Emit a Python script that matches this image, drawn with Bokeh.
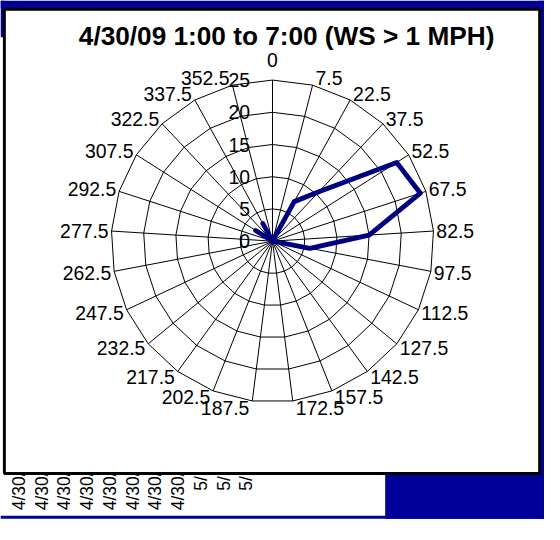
import math
from bokeh.plotting import figure
from bokeh.models import Range1d
from bokeh.embed import file_html
from bokeh.resources import INLINE
from bokeh.core.properties import value

# ---------------- data ----------------
TITLE = "4/30/09 1:00 to 7:00 (WS > 1 MPH)"
directions = ["0", "7.5", "22.5", "37.5", "52.5", "67.5", "82.5", "97.5",
              "112.5", "127.5", "142.5", "157.5", "172.5", "187.5", "202.5",
              "217.5", "232.5", "247.5", "262.5", "277.5", "292.5", "307.5",
              "322.5", "337.5", "352.5"]
wind_counts = [0, 0, 7.0, 10.5, 22.8, 24.1, 15.0, 5.9,
               0, 0, 0, 0, 0, 0, 0,
               0, 0, 0, 0, 0, 0, 3.1,
               0, 3.1, 0]
radial_ticks = [0, 5, 10, 15, 20, 25]
time_labels = ["4/30/09 16:00", "4/30/09 17:00", "4/30/09 18:00",
               "4/30/09 19:00", "4/30/09 20:00", "4/30/09 21:00", "4/30/09 22:00",
               "4/30/09 23:00", "5/1/09 0:00", "5/1/09 1:00", "5/1/09 2:00"]

# ---------------- layout (reference pixels, y measured downward) ----------------
W, H = 560, 540
PW, PH = 544, 524
K = PW / W               # pixel scale of the drawing

def Y(y):
    return H - y

def px(v):
    return f"{v * K:.1f}px"

FONT = value("Liberation Sans")
BLUE = "#000099"
NAVY = "#000080"

CX, CY = 280, 248      # polar centre
R = 166                # outer ring radius
RMAX = radial_ticks[-1]
scale = R / RMAX

p = figure(width=PW, height=PH, x_range=Range1d(0, W), y_range=Range1d(0, H),
           output_backend="svg", toolbar_location=None, min_border=0,
           background_fill_color="white", border_fill_color="white")
p.outline_line_color = None
p.axis.visible = False
p.grid.visible = False

# background pieces of the slide behind the chart
p.quad(left=[0], right=[W], top=[Y(0)], bottom=[Y(8)], fill_color=BLUE, line_color=None)
p.quad(left=[0], right=[4], top=[Y(0)], bottom=[Y(38)], fill_color=BLUE, line_color=None)
p.quad(left=[554], right=[W], top=[Y(0)], bottom=[Y(534)], fill_color=BLUE, line_color=None)
p.quad(left=[396], right=[W], top=[Y(487)], bottom=[Y(534)], fill_color=BLUE, line_color=None)
p.quad(left=[0], right=[W], top=[Y(531)], bottom=[Y(534)], fill_color=BLUE, line_color=None)

# time-axis labels of the chart behind (mostly hidden by the box)
tx = [19 + 23.4 * i for i in range(len(time_labels))]
p.text(x=tx, y=[Y(415)] * len(time_labels), text=time_labels, angle=math.pi / 2,
       text_align="right", text_baseline="middle", text_font=FONT,
       text_font_size=px(18), text_color="black")

# chart box
p.quad(left=[4], right=[555], top=[Y(9)], bottom=[Y(487.5)], fill_color="white",
       line_color="black", line_width=3 * K)

# title
p.text(x=[294.5], y=[Y(37)], text=[TITLE], text_align="center", text_baseline="alphabetic",
       text_font=FONT, text_font_style="bold", text_font_size=px(27), text_color="black")

n = len(directions)
angles = [2 * math.pi * i / n for i in range(n)]
cyd = Y(CY)

# ring polygons
ring_xs, ring_ys = [], []
for t in radial_ticks[1:]:
    rr = t * scale
    xs = [CX + rr * math.sin(a) for a in angles] + [CX]
    ys = [cyd + rr * math.cos(a) for a in angles] + [cyd + rr]
    ring_xs.append(xs)
    ring_ys.append(ys)
p.multi_line(xs=ring_xs, ys=ring_ys, line_color="black", line_width=1)

# spokes
p.segment(x0=[CX] * n, y0=[cyd] * n,
          x1=[CX + R * math.sin(a) for a in angles],
          y1=[cyd + R * math.cos(a) for a in angles],
          line_color="black", line_width=1)

# radial labels
p.text(x=[CX - 23] * len(radial_ticks), y=[cyd + t * scale for t in radial_ticks],
       text=[str(t) for t in radial_ticks], text_align="right", text_baseline="middle",
       text_font=FONT, text_font_size=px(20), text_color="black")

# category labels
h = 14.3
gx = 3
for lab, a in zip(directions, angles):
    s, c = math.sin(a), math.cos(a)
    tipx, tipy = CX + R * s, cyd + R * c
    if s > 0.05:
        align, lx = "left", tipx + gx
    elif s < -0.05:
        align, lx = "right", tipx - gx
    else:
        align, lx = "center", tipx
    ly = tipy + c * h / 2
    if align == "center" and c > 0:
        ly += 13.5
    p.text(x=[lx], y=[ly], text=[lab], text_align=align, text_baseline="middle",
           text_font=FONT, text_font_size=px(20), text_color="black")

# series
sx = [CX + v * scale * math.sin(a) for v, a in zip(wind_counts, angles)]
sy = [cyd + v * scale * math.cos(a) for v, a in zip(wind_counts, angles)]
p.line(x=sx + sx[:1], y=sy + sy[:1], line_color=NAVY, line_width=5 * K, line_join="round")

open("out.html", "w").write(file_html(p, INLINE))
